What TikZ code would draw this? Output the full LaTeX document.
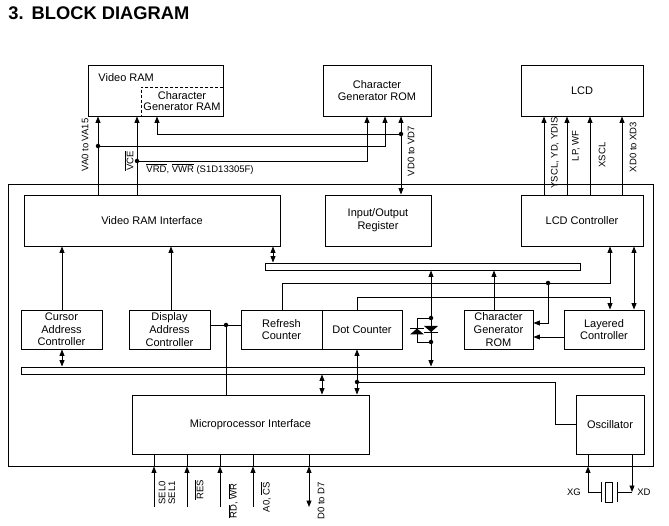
\documentclass[tikz,border=0pt]{standalone}
\usepackage{fontspec}
\setmainfont{Liberation Sans}
\usetikzlibrary{arrows.meta}
\begin{document}
\begin{tikzpicture}[x=1pt,y=-1pt,
  line width=0.9pt,
  box/.style={draw, line width=0.9pt, inner sep=0pt, align=center, font=\fontsize{11}{12.7}\selectfont},
  bus/.style={draw, line width=0.9pt, inner sep=0pt},
  arr/.style={-{Triangle[length=6.5pt,width=5pt]}},
  darr/.style={{Triangle[length=6.5pt,width=5pt]}-{Triangle[length=6.5pt,width=5pt]}},
  jdot/.style={circle, fill, inner sep=0pt, minimum size=4.5pt},
  lbl/.style={font=\fontsize{9.5}{9.6}\selectfont, inner sep=0pt, rotate=90, align=center},
  hlbl/.style={font=\fontsize{9.5}{9.6}\selectfont, inner sep=0pt},
]
\useasboundingbox (0,0) rectangle (669,526);

% title
\node[anchor=base west, inner sep=0pt, font=\fontsize{18.3}{20}\selectfont\bfseries] (title) at (8,20) {3.\hspace{8pt}BLOCK DIAGRAM};

% external boxes
\node[box, minimum width=135pt, minimum height=51pt] (vram) at (155.5,90.5) {};
\node[anchor=base west, inner sep=0pt, font=\fontsize{11}{12.7}\selectfont] (vramtxt) at (98,82) {Video RAM};
\coordinate (cgr) at (141,87);
\draw[dash pattern=on 3pt off 2pt] (vram.east |- cgr) -- (cgr) -- (cgr |- vram.south);
\node[align=center, inner sep=0pt, font=\fontsize{11}{11.5}\selectfont] (cgramtxt) at (182,101) {Character\\Generator RAM};
\node[box, minimum width=108pt, minimum height=51pt] (cgrom) at (377,90.5) {Character\\Generator ROM};
\node[box, minimum width=122pt, minimum height=51pt] (lcd) at (582,90.5) {LCD};

% outer chip box
\node[draw, inner sep=0pt, minimum width=645pt, minimum height=282pt] (outer) at (330.5,325) {};

% inner boxes
\node[box, minimum width=256pt, minimum height=51pt] (vri) at (152,220.5) {Video RAM Interface};
\node[box, minimum width=106pt, minimum height=51pt] (ioreg) at (378,220.5) {Input/Output\\Register};
\node[box, minimum width=122pt, minimum height=51pt] (lcdc) at (582,220.5) {LCD Controller};
\node[bus, minimum width=315pt, minimum height=7pt] (bus1) at (422.5,266.5) {};
\node[box, minimum width=81pt, minimum height=39pt] (cac) at (61.5,329.5) {Cursor\\Address\\Controller};
\node[box, minimum width=81pt, minimum height=39pt] (dac) at (169.5,329.5) {Display\\Address\\Controller};
\node[box, minimum width=81pt, minimum height=39pt] (refresh) at (281.5,329.5) {Refresh\\Counter};
\node[box, minimum width=80pt, minimum height=39pt] (dotc) at (362,329.5) {Dot Counter};
\node[box, minimum width=69pt, minimum height=39pt] (cgrom2) at (498.5,329.5) {Character\\Generator\\ROM};
\node[box, minimum width=80pt, minimum height=39pt] (layered) at (604,329.5) {Layered\\Controller};
\node[bus, minimum width=623pt, minimum height=7pt] (bus2) at (332.5,370.5) {};
\node[box, minimum width=237pt, minimum height=59pt] (mpi) at (250.5,424.5) {Microprocessor Interface};
\node[box, minimum width=68pt, minimum height=59pt] (osc) at (610,424.5) {Oscillator};

% ---- top connectors
\coordinate (dva) at (98,146);
\coordinate (dvce) at (137,161);
\coordinate (dvd) at (401,134);
\coordinate (xcg) at (157,134);
\coordinate (x367) at (367,161);
\coordinate (x385) at (385,146);
\draw[arr] (vri.north -| dva) -- (vram.south -| dva);
\draw[arr] (vri.north -| dvce) -- (vram.south -| dvce);
\draw[arr] (dvd) -- (xcg) -- (vram.south -| xcg);
\draw[arr] (dva) -- (x385) -- (cgrom.south -| x385);
\draw[arr] (dvce) -- (x367) -- (cgrom.south -| x367);
\draw[darr] (ioreg.north -| dvd) -- (cgrom.south -| dvd);
\node[jdot] at (dva) {};
\node[jdot] at (dvce) {};
\node[jdot] at (dvd) {};

\foreach \x in {544,567,590,622} {
  \coordinate (t) at (\x,150);
  \draw[arr] (lcdc.north -| t) -- (lcd.south -| t);
}

% labels top
\node[lbl] (lva) at (85,145) {VA0 to VA15};
\node[lbl] (lvce) at (129,161) {$\overline{\mbox{VCE}}$};
\node[hlbl, anchor=west] (lvrd) at (146,169) {$\overline{\mbox{VRD}}$, $\overline{\mbox{VWR}}$ (S1D13305F)};
\node[lbl] (lvd) at (411,151) {VD0 to VD7};
\node[lbl] (ly) at (555,153) {YSCL, YD, YDIS};
\node[lbl] (llp) at (576,146) {LP, WF};
\node[lbl] (lxs) at (602,155) {XSCL};
\node[lbl] (lxd) at (633,147) {XD0 to XD3};

% ---- middle connectors
\coordinate (c273) at (273,250);
\draw[darr] (vri.south -| c273) -- (bus1.north -| c273);

\coordinate (r1) at (282,283);
\coordinate (r2) at (610,283);
\coordinate (dr) at (548,283);
\coordinate (r3) at (548,323);
\draw[arr] (refresh.north -| r1) -- (r1) -- (r2) -- (lcdc.south -| r2);
\draw[arr] (dr) -- (r3) -- (cgrom2.east |- r3);
\node[jdot] at (dr) {};

\coordinate (d1) at (357,297);
\coordinate (d2) at (610,297);
\draw[arr] (dotc.north -| d1) -- (d1) -- (d2) -- (layered.north -| d2);

\coordinate (c634) at (634,280);
\draw[darr] (lcdc.south -| c634) -- (layered.north -| c634);

\coordinate (c494) at (494,290);
\draw[arr] (cgrom2.north -| c494) -- (bus1.south -| c494);

\coordinate (c337) at (550,337);
\draw[arr] (layered.west |- c337) -- (cgrom2.east |- c337);

% diode pair
\coordinate (dd1) at (431,318);
\coordinate (dd2) at (431,342);
\coordinate (dl1) at (417,318);
\coordinate (dl2) at (417,342);
\draw[arr] (dd1) -- (bus1.south -| dd1);
\draw[arr] (dd2) -- (bus2.north -| dd2);
\draw (dd1) -- (dd2);
\draw (dd1) -- (dl1) -- (dl2) -- (dd2);
\fill (424,326) -- (438,326) -- (431,332) -- cycle;
\draw (424,332) -- (438,332);
\fill (410,334.5) -- (424,334.5) -- (417,328.5) -- cycle;
\draw (410,328.5) -- (424,328.5);
\node[jdot] at (dd1) {};
\node[jdot] at (dd2) {};

% left column
\coordinate (c62) at (62,300);
\draw[arr] (cac.north -| c62) -- (vri.south -| c62);
\draw[darr] (cac.south -| c62) -- (bus2.north -| c62);
\coordinate (c171) at (171,300);
\draw[arr] (dac.north -| c171) -- (vri.south -| c171);

\coordinate (ddac) at (226,325);
\draw (dac.east |- ddac) -- (refresh.west |- ddac);
\draw (ddac) -- (mpi.north -| ddac);
\node[jdot] at (ddac) {};

% lower middle
\coordinate (c322) at (322,385);
\draw[darr] (bus2.south -| c322) -- (mpi.north -| c322);

\coordinate (dcn) at (357,382);
\coordinate (o1) at (555,382);
\coordinate (o2) at (555,424);
\draw[arr] (dcn) -- (dotc.south -| dcn);
\draw[arr] (dcn) -- (mpi.north -| dcn);
\draw (dcn) -- (o1) -- (o2) -- (osc.west |- o2);
\node[jdot] at (dcn) {};

% ---- bottom signals
\foreach \x in {154,187,220,253} {
  \coordinate (b) at (\x,507);
  \draw[arr] (b) -- (b |- outer.south);
  \draw (b |- outer.south) -- (b |- mpi.south);
}
\coordinate (b5) at (309,507);
\draw[darr] (b5) -- (b5 |- outer.south);
\draw (b5 |- outer.south) -- (b5 |- mpi.south);

\node[lbl] (lsel) at (167,493) {SEL0\\SEL1};
\node[lbl] (lres) at (199,490) {$\overline{\mbox{RES}}$};
\node[lbl] (lrd) at (233,501) {$\overline{\mbox{RD}}$, $\overline{\mbox{WR}}$};
\node[lbl] (la0) at (266,497) {A0, $\overline{\mbox{CS}}$};
\node[lbl] (ld) at (321,501) {D0 to D7};

% crystal
\coordinate (xg) at (588,492);
\coordinate (xd) at (632,492);
\coordinate (p1) at (601,492);
\coordinate (p2) at (617,492);
\draw[arr] (xg) -- (xg |- outer.south);
\draw (xg |- outer.south) -- (osc.south -| xg);
\draw[arr] (osc.south -| xd) -- (xd);
\draw (xg) -- (p1);
\draw (601,482) -- (601,502);
\draw (605,482) rectangle (612,502);
\draw (617,482) -- (617,502);
\draw (p2) -- (xd);
\node[hlbl] (lxg) at (574,492) {XG};
\node[hlbl] (lxdd) at (644,492) {XD};
\end{tikzpicture}
\end{document}
